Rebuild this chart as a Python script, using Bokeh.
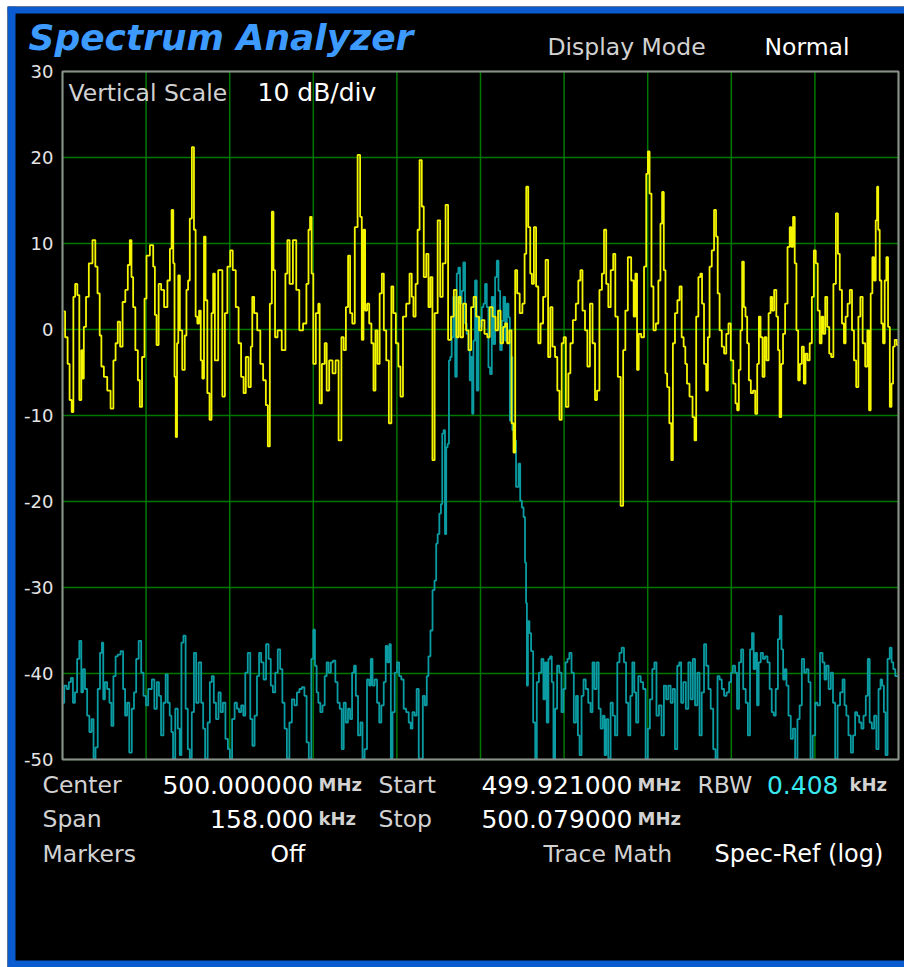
from bokeh.plotting import figure
from bokeh.models import Range1d, Label, ColumnDataSource
from bokeh.layouts import column
from bokeh.embed import file_html
from bokeh.resources import INLINE
from bokeh.core.properties import value

# ---------------- data ----------------
# trace points: bin index (401-point sweep, 499.921 .. 500.079 MHz) and level (dB)
yellow_bin = [0.6, 1.9, 3.0, 3.8, 5.0, 5.4, 6.7, 7.5, 8.6, 9.4, 9.7, 10.7, 11.8, 13.4, 15.3, 16.1, 17.4, 18.2, 19.0, 20.6,
              22.2, 23.8, 24.9, 25.9, 27.0, 28.1, 29.4, 30.7, 31.8, 32.6, 33.4, 34.2, 35.5, 36.6, 37.4, 38.7, 39.8, 40.6,
              43.0, 43.8, 44.6, 45.4, 46.6, 47.8, 49.4, 51.0, 51.8, 52.6, 53.4, 53.8, 54.6, 55.0, 55.8, 56.5, 58.1, 58.9,
              59.7, 60.5, 61.3, 62.5, 63.3, 64.1, 64.9, 65.8, 66.5, 67.3, 68.1, 68.8, 69.8, 70.9, 71.7, 72.5, 73.3, 75.7,
              77.3, 78.1, 79.7, 80.8, 82.1, 83.7, 84.8, 86.1, 87.2, 88.2, 89.8, 90.4, 91.2, 92.2, 94.1, 95.2, 96.8, 97.8,
              98.7, 99.7, 100.6, 101.3, 102.1, 103.7, 106.1, 107.2, 108.0, 109.3, 111.2, 112.5, 114.1, 116.1, 117.3,
              118.1, 118.8, 119.6, 120.4, 122.0, 122.8, 123.3, 124.9, 126.0, 126.8, 128.4, 130.0, 131.3, 132.9, 134.0,
              135.1, 136.1, 137.2, 138.0, 139.3, 140.4, 142.0, 142.8, 143.6, 144.4, 145.2, 146.3, 147.2, 148.4, 149.2,
              150.3, 151.1, 152.4, 153.2, 154.3, 155.5, 156.8, 157.9, 158.7, 160.3, 161.1, 162.3, 163.5, 165.4, 166.7,
              167.5, 168.3, 169.6, 170.2, 171.5, 172.3, 173.4, 174.7, 175.5, 176.6, 177.4, 178.7, 180.3, 181.1, 182.7,
              183.9, 185.1, 186.7, 187.8, 189.1, 189.9, 191.0, 192.3, 193.9, 194.7, 196.3, 197.1, 198.7, 199.9, 201.1,
              202.7, 203.8, 205.0, 206.6, 207.8, 209.0, 210.2, 211.4, 212.2, 213.3, 214.3, 215.4, 216.2, 217.0, 218.1,
              219.4, 220.7, 221.5, 222.3, 223.4, 224.2, 225.0, 226.1, 227.1, 228.2, 229.3, 230.6, 231.7, 233.0, 233.8,
              235.1, 236.2, 237.3, 238.3, 239.4, 240.2, 241.5, 242.6, 243.4, 245.0, 246.2, 247.4, 248.2, 249.4, 250.6,
              251.7, 253.0, 254.2, 255.4, 256.1, 257.7, 258.5, 259.7, 260.6, 261.7, 262.9, 264.1, 264.9, 266.5, 267.6,
              268.9, 269.7, 271.3, 272.9, 273.7, 274.5, 275.3, 276.1, 277.7, 278.8, 279.8, 280.4, 281.4, 282.2, 283.3,
              284.5, 285.7, 286.5, 287.3, 288.1, 288.9, 289.7, 291.0, 291.6, 292.5, 293.6, 294.8, 295.7, 296.8, 297.6,
              298.4, 299.2, 300.8, 302.1, 302.7, 303.7, 304.8, 305.6, 306.4, 307.5, 308.5, 309.1, 310.1, 311.2, 312.3,
              313.1, 313.9, 314.9, 316.0, 317.1, 318.1, 319.2, 320.3, 321.6, 322.4, 323.2, 324.0, 324.8, 325.6, 326.4,
              327.2, 328.0, 328.8, 329.9, 330.9, 332.0, 332.8, 333.6, 334.4, 335.5, 336.3, 337.3, 338.4, 339.2, 339.9,
              341.1, 342.0, 342.7, 343.5, 344.3, 345.2, 346.3, 347.5, 348.4, 349.1, 350.0, 350.7, 351.6, 352.4, 353.2,
              354.3, 355.1, 355.9, 357.0, 358.0, 359.1, 359.9, 360.9, 361.8, 362.8, 363.6, 364.4, 365.5, 366.3, 367.4,
              368.2, 369.5, 370.6, 371.4, 372.4, 373.5, 374.3, 375.1, 376.2, 377.2, 378.3, 379.1, 380.4, 381.2, 382.3,
              383.4, 384.7, 385.5, 386.3, 387.1, 387.9, 388.7, 389.5, 390.0, 390.6, 391.4, 392.2, 393.0, 393.8, 394.6,
              395.4, 396.3, 397.0, 397.8, 398.6, 399.8]
yellow_db = [2.1, -0.9, -4.0, -8.2, -9.6, 3.8, 5.3, 4.0, -8.2, -2.4, -5.7, 0.3, 3.8, 7.7, 10.4, 7.3, 4.2, -0.7, -4.3, -5.5,
             -7.1, -9.2, -3.6, -1.6, 0.9, -2.0, 3.2, 4.6, 7.5, 10.4, 6.1, 2.6, -2.4, -5.9, -9.0, -3.2, 3.6, 8.6,
             9.8, 7.3, 1.7, -1.8, 5.3, 4.6, 2.6, 5.7, 9.4, 13.9, 7.7, -5.5, -12.5, -1.6, 6.3, -0.1, -4.7, -0.7,
             4.6, 5.7, 12.9, 21.2, 11.6, 1.5, 0.7, 2.2, -3.6, -5.7, 10.8, 3.4, -7.4, -10.5, 1.9, 6.5, -3.6, 6.9,
             -7.8, 1.9, 7.3, 9.2, 6.9, 2.6, -1.6, -5.5, -7.4, -3.2, -6.7, -2.0, 3.8, 1.9, -0.1, -4.0, -5.9, -8.8,
             -13.6, 3.0, 13.7, 6.9, -0.9, -0.1, -2.4, 6.5, 10.4, 5.3, 10.4, 4.6, -0.1, 0.7, 5.3,
             11.6, 13.1, 6.5, -4.0, 1.9, 3.0, -8.6, -4.0, -1.6, -7.1, -3.6, -5.1, -3.6, -12.9, -0.9,
             -2.4, 2.6, 8.6, 1.9, 0.7, 11.9, 20.3, 13.1, -1.2, 11.6, 2.2, 3.0, 0.7, -1.6, -7.1,
             -0.1, -4.0, 4.2, 6.5, -0.1, -3.6, -10.9, 5.0, 1.9, -1.6, -4.3, -7.8, 1.5, 3.0, 6.5,
             3.8, 1.5, 5.3, 11.6, 19.7, 14.3, 6.1, 8.8, 2.6, 6.1, -15.2, 1.9, 12.7, 3.8, 7.7,
             14.5, -1.2, 1.5, 4.6, -0.9, 3.8, -0.9, 3.0, -0.1, -2.4, 2.6, 3.8, 1.5, -0.1, 1.1,
             -0.5, -0.9, 2.6, 1.5, -0.1, 2.2, -1.6, 0.3, 0.7, -1.6, -0.1, -10.9, -14.3, 6.9, 4.2,
             1.9, 3.0, 8.8, 16.6, 11.9, 6.5, 5.3, 11.9, 5.0, -1.6, 0.7, 3.8, 8.1, -3.2, 2.6,
             -2.0, -3.2, -7.1, -10.5, -1.6, -0.9, -9.0, -5.1, -1.6, 1.1, 3.0, 5.7, 6.9, 2.2, -0.1,
             -4.3, 3.0, -1.6, -8.2, -7.1, 4.6, 6.5, 11.6, 5.3, 2.6, 6.9, 8.8, 1.5, -5.5, -20.5,
             -2.4, 2.2, 8.4, 5.7, 1.5, 6.5, -4.7, -0.5, -0.9, 7.3, 18.1, 20.7, 15.8, 5.0, -0.1,
             0.7, 5.7, 12.3, 16.0, 6.9, -5.1, -6.7, -10.9, -15.2, -1.6, 1.9, 3.4, 5.0, -0.9, -2.0,
             -4.0, -6.3, -7.8, -10.2, -12.9, 1.5, 6.1, 6.5, 3.0, -4.0, -7.1, -0.9, 7.3, 9.2, 13.9,
             10.8, 4.2, -0.1, -2.0, -2.8, -0.5, 0.7, -3.6, -6.3, -8.6, -9.4, -4.7, -0.1, 7.9, 2.6,
             1.5, -1.6, -5.9, -7.4, -7.1, -9.8, -4.0, 1.5, -0.9, -5.5, -0.9, -3.6, 1.9, 3.8, 2.2,
             4.6, 1.5, -2.4, -10.2, -4.0, -0.5, 3.0, 9.6, 11.9, 9.6, 13.1, 7.7, -0.1, -5.9, -4.0,
             -2.0, -6.3, -2.8, -3.6, -1.6, 3.8, 9.2, 7.7, 2.2, -1.6, 1.5, -0.5, 3.8, 0.3, -2.8,
             -3.2, 5.3, 13.5, 8.8, 4.6, 0.7, -1.6, 1.5, 3.0, 4.6, -0.1, -3.6, -6.7, 1.5, 3.8,
             -1.6, -4.3, -0.1, -9.4, 4.2, 8.4, 5.7, 12.7, 16.6, 11.6, 5.7, 0.7, -1.6, 5.7, 8.4,
             0.3, -9.0, -6.3, -2.0, -1.2, -1.8]

cyan_bin = [0.3, 1.4, 2.6, 3.5, 4.6, 5.4, 6.5, 7.5, 8.6, 9.4, 10.2, 11.3, 12.3, 13.4, 14.4, 15.3, 16.3, 17.4, 18.5, 19.2,
            19.8, 20.8, 21.9, 23.0, 23.8, 24.9, 25.9, 27.0, 28.6, 29.4, 30.5, 31.3, 32.6, 33.7, 34.7, 35.8, 37.1, 38.2,
            39.3, 40.6, 41.4, 42.2, 43.3, 44.6, 45.7, 46.6, 47.7, 48.9, 49.8, 50.9, 51.7, 52.5, 53.3, 54.6, 55.7, 56.5,
            57.3, 58.4, 59.4, 60.5, 61.3, 62.4, 63.4, 64.5, 65.8, 66.9, 67.7, 68.8, 70.1, 70.9, 72.0, 72.8, 74.1, 75.2,
            76.2, 77.3, 78.6, 79.7, 80.5, 81.8, 82.9, 84.0, 84.9, 86.1, 86.9, 88.0, 89.3, 90.4, 91.3, 92.5, 93.6, 94.5,
            95.6, 96.8, 98.0, 99.2, 100.1, 101.2, 102.4, 103.6, 104.7, 105.7, 106.8, 107.9, 109.2, 110.3, 111.6, 112.7,
            114.0, 115.1, 116.4, 117.2, 118.5, 119.6, 120.4, 121.2, 122.0, 122.8, 123.9, 124.9, 126.0, 126.8, 127.9,
            128.9, 130.0, 131.1, 132.1, 133.2, 134.0, 135.1, 136.0, 137.2, 138.0, 139.1, 139.9, 140.8, 142.0, 143.1,
            144.0, 145.1, 146.3, 147.1, 147.9, 148.8, 149.9, 151.1, 152.0, 153.1, 154.3, 155.0, 156.0, 156.8, 157.4,
            158.4, 159.5, 160.6, 161.5, 162.7, 163.8, 165.1, 166.2, 167.0, 167.9, 169.0, 169.9, 171.0, 172.0, 172.8,
            173.9, 174.7, 175.5, 176.6, 177.5, 178.5, 179.1, 179.9, 180.7, 181.4, 182.0, 182.7, 183.3, 183.9, 184.6,
            185.2, 185.9, 186.5, 187.5, 188.3, 189.0, 189.8, 190.6, 191.4, 192.2, 193.0, 193.8, 194.6, 195.1, 195.8,
            196.2, 197.0, 197.8, 198.6, 199.4, 200.2, 201.0, 201.8, 202.6, 203.4, 204.2, 205.0, 205.8, 206.6, 207.4,
            208.2, 209.0, 209.8, 210.6, 211.4, 212.2, 213.0, 213.8, 214.3, 214.9, 215.6, 216.2, 217.8, 218.6, 219.4,
            220.2, 221.0, 221.6, 222.0, 222.4, 223.0, 223.8, 224.6, 225.8, 226.6, 227.3, 228.6, 229.7, 230.5, 231.3,
            232.1, 232.9, 233.7, 234.5, 235.3, 236.1, 237.2, 238.2, 239.3, 240.1, 241.2, 242.0, 243.0, 244.1, 245.2,
            246.2, 247.0, 247.8, 248.9, 249.7, 251.0, 252.1, 253.2, 254.0, 255.0, 256.1, 257.0, 258.0, 259.0, 259.8,
            260.6, 261.7, 262.8, 263.8, 264.9, 266.0, 267.0, 268.1, 269.2, 270.1, 271.3, 272.1, 273.2, 274.0, 274.9,
            276.1, 277.2, 278.4, 279.6, 280.5, 281.6, 282.8, 283.6, 284.8, 286.0, 287.2, 288.3, 289.3, 290.4, 291.5,
            292.5, 293.6, 294.7, 295.5, 296.5, 297.6, 298.9, 300.0, 301.1, 302.1, 303.2, 304.3, 305.3, 306.4, 307.5,
            308.5, 309.6, 310.7, 312.0, 312.9, 313.9, 314.9, 316.0, 317.1, 318.4, 319.5, 320.3, 321.2, 322.4, 323.1,
            324.3, 325.1, 326.3, 327.5, 328.4, 329.5, 330.3, 331.1, 331.9, 332.7, 333.5, 334.7, 335.6, 336.7, 337.9,
            338.8, 339.9, 340.7, 341.8, 342.8, 343.6, 344.4, 345.2, 346.0, 346.8, 347.9, 349.0, 350.0, 351.1, 352.2,
            353.2, 354.3, 355.4, 356.4, 357.5, 358.3, 359.6, 360.7, 361.8, 363.1, 364.2, 365.0, 366.0, 367.1, 368.2,
            369.1, 370.3, 371.4, 372.7, 373.8, 374.6, 375.5, 376.6, 377.8, 378.7, 379.8, 380.6, 381.8, 382.7, 383.8,
            384.9, 385.7, 386.7, 387.8, 388.9, 389.9, 391.0, 391.8, 392.6, 393.4, 394.2, 395.3, 396.3, 397.1, 397.9,
            399.0, 399.8]
cyan_db = [-43.4, -41.4, -41.8, -41.0, -40.5, -43.4, -42.2, -38.3, -36.2, -42.2, -39.5, -41.8, -44.9, -46.8, -45.3, -49.9,
           -48.6, -41.8, -37.6, -36.4, -43.0, -41.0, -41.8, -43.4, -46.1, -40.3, -38.0, -37.8, -37.4, -41.8, -44.9, -43.4,
           -49.2, -44.1, -42.2, -38.3, -36.2, -39.9, -42.6, -43.7, -41.8, -41.8, -40.7, -44.1, -41.0, -42.6, -47.2, -43.4,
           -40.1, -43.4, -44.9, -46.8, -49.9, -44.1, -46.4, -49.5, -36.4, -35.6, -44.1, -48.8, -49.9, -44.5, -37.6, -43.4,
           -38.7, -43.4, -46.4, -49.9, -45.7, -41.0, -40.3, -43.4, -45.3, -42.2, -44.5, -43.4, -47.6, -48.8, -49.9, -45.3,
           -43.4, -44.1, -44.5, -43.7, -44.9, -39.9, -37.6, -45.3, -48.4, -44.9, -40.3, -37.6, -38.7, -40.7, -36.6, -38.3,
           -41.4, -42.2, -39.9, -37.2, -39.5, -43.4, -46.4, -49.9, -45.7, -43.0, -43.7, -42.2, -41.8, -41.6, -42.6, -48.0,
           -49.9, -38.3, -34.9, -39.1, -42.2, -43.4, -44.5, -43.7, -40.3, -38.7, -39.9, -38.7, -38.5, -41.0, -43.4, -44.1,
           -48.8, -43.4, -45.7, -44.1, -45.3, -39.9, -39.1, -42.6, -47.2, -45.7, -49.9, -48.8, -40.7, -41.4, -38.3, -41.4,
           -40.7, -43.4, -45.7, -43.7, -41.0, -36.8, -38.7, -36.6, -49.9, -44.5, -39.9, -38.7, -40.3, -40.7, -44.1, -44.5,
           -45.7, -46.4, -44.5, -44.9, -41.8, -49.9, -49.9, -42.6, -43.7, -40.3, -38.0, -35.0, -30.3, -29.2, -24.9, -23.8,
           -21.4, -20.3, -12.1, -11.7, -23.8, -13.7, -13.3, -3.6, -3.2, -0.9, 3.8, -5.5, 6.5, 7.2, 3.0, 4.5, 7.8, 0.7,
           -0.5, -2.4, -5.9, -3.2, -9.8, -1.3, 5.7, -7.1, 1.4, 0.3, 2.6, 3.0, 5.3, 2.6, -4.4, -5.2, 3.8, -1.7, 6.1,
           8.0, 4.5, -2.4, 1.0, 3.8, -1.3, 3.0, 1.4, -10.6, -3.2, -11.7, -12.9, -18.3, -15.6, -19.9, -20.7, -21.8, -27.1,
           -31.8, -41.4, -33.9, -35.3, -37.4, -45.7, -49.9, -41.0, -39.9, -38.3, -43.0, -38.7, -45.7, -38.3, -38.0,
           -41.0, -49.9, -44.1, -39.1, -39.9, -44.5, -41.8, -38.7, -38.3, -37.6, -39.9, -45.7, -42.6, -47.2, -49.5,
           -42.6, -40.7, -41.8, -43.4, -44.5, -38.7, -41.8, -38.7, -44.1, -46.4, -44.9, -49.5, -45.3, -49.9, -43.4,
           -44.9, -47.2, -38.7, -37.6, -37.0, -38.7, -43.4, -47.2, -42.6, -38.7, -42.2, -45.7, -40.3, -41.0, -41.8,
           -49.9, -46.4, -43.0, -39.5, -38.7, -44.9, -43.7, -47.2, -41.4, -43.0, -41.4, -43.4, -41.8, -48.8, -39.1,
           -38.7, -43.4, -41.0, -44.1, -38.7, -43.0, -38.3, -43.7, -39.9, -47.2, -42.2, -36.6, -39.1, -41.8, -44.1,
           -48.8, -49.9, -40.3, -40.7, -41.8, -42.6, -42.2, -41.0, -39.9, -39.1, -39.9, -44.1, -38.7, -37.2, -41.8,
           -43.4, -47.2, -37.2, -35.3, -39.5, -37.6, -43.7, -38.7, -37.6, -38.3, -38.0, -38.7, -41.8, -44.5, -44.9,
           -41.8, -36.0, -33.3, -37.2, -40.7, -39.5, -41.4, -44.9, -47.6, -46.4, -49.9, -45.3, -43.7, -38.3, -39.9,
           -39.5, -41.0, -49.9, -47.2, -43.4, -43.7, -37.6, -38.7, -40.7, -39.1, -41.8, -39.9, -43.4, -49.9, -43.7,
           -42.2, -40.7, -43.7, -44.9, -47.2, -49.2, -47.2, -44.5, -44.9, -45.7, -46.4, -44.9, -42.6, -38.3, -45.7,
           -46.4, -44.9, -48.8, -41.8, -40.7, -41.4, -44.5, -49.5, -38.3, -37.0, -38.7, -39.5, -40.3, -40.3]

y_ticks = [-50, -40, -30, -20, -10, 0, 10, 20, 30]
x_divisions = [0, 40, 80, 120, 160, 200, 240, 280, 320, 360, 400]
y_tick_labels = [str(t) for t in y_ticks]

# ---------------- layout (pixels, canvas coordinates) ----------------
W, H = 897, 961                 # canvas size
BOX_L, BOX_R = 55, 891          # plot box edges
BOX_T, BOX_B = 65, 753
EDGE_L, EDGE_T, EDGE_B = 8, 7, 7    # blue frame thickness

x_lo, x_hi = min(x_divisions), max(x_divisions)
y_lo, y_hi = min(y_ticks), max(y_ticks)
ppx = (BOX_R - BOX_L) / (x_hi - x_lo)
ppy = (BOX_B - BOX_T) / (y_hi - y_lo)
xs, xe = x_lo - BOX_L / ppx, x_hi + (W - BOX_R) / ppx
ys, ye = y_lo - (H - BOX_B) / ppy, y_hi + BOX_T / ppy

FONT = "DejaVu Sans"
LABEL_C = "#d2d2d2"
VALUE_C = "#ffffff"
BLUE = "#0b5bd0"

p = figure(width=W, height=H, output_backend="svg", toolbar_location=None,
           x_range=Range1d(xs, xe), y_range=Range1d(ys, ye),
           min_border=0, min_border_left=0, min_border_right=0, min_border_top=0, min_border_bottom=0,
           x_axis_location=None, y_axis_location=None)
p.grid.visible = False
p.outline_line_color = None
p.background_fill_color = "black"
p.border_fill_color = "black"

# blue frame (left, top, bottom edges of the instrument panel)
fx = EDGE_L / ppx
ft = EDGE_T / ppy
fb = EDGE_B / ppy
p.quad(left=[xs, xs, xs], right=[xs + fx, xe, xe], bottom=[ys, ye - ft, ys], top=[ye, ye, ys + fb],
       fill_color=BLUE, line_color=None)

# grid
GRID_C = "#007800"
vg = ColumnDataSource(dict(x=x_divisions, y0=[y_lo] * len(x_divisions), y1=[y_hi] * len(x_divisions)))
hg = ColumnDataSource(dict(y=y_ticks, x0=[x_lo] * len(y_ticks), x1=[x_hi] * len(y_ticks)))
p.segment(x0="x", y0="y0", x1="x", y1="y1", source=vg, line_color=GRID_C, line_width=1.5)
p.segment(x0="x0", y0="y", x1="x1", y1="y", source=hg, line_color=GRID_C, line_width=1.5)

# traces
cyan_src = ColumnDataSource(dict(x=cyan_bin, y=cyan_db))
yel_src = ColumnDataSource(dict(x=yellow_bin, y=yellow_db))
p.step("x", "y", source=cyan_src, mode="center", line_color="#0a9ca2", line_width=1.8)
p.step("x", "y", source=yel_src, mode="center", line_color="#f5f500", line_width=1.8)

# plot box
p.quad(left=[x_lo], right=[x_hi], bottom=[y_lo], top=[y_hi], fill_color=None,
       line_color="#8e8e8e", line_width=2)

# y tick labels
tk = ColumnDataSource(dict(x=[x_lo] * len(y_ticks), y=y_ticks, t=y_tick_labels))
p.text(x="x", y="y", text="t", source=tk, x_offset=-9, text_align="right", text_baseline="middle",
       text_font=value(FONT), text_font_size="18px", text_color="#e4e4e4")


def lab(x, y, text, size="23.5px", color=LABEL_C, align="left", style="normal"):
    p.add_layout(Label(x=x, y=y, x_units="canvas", y_units="canvas", text=text,
                       text_font=FONT, text_font_size=size, text_color=color,
                       text_align=align, text_baseline="middle", text_font_style=style))


lab(21, 31, "Spectrum Analyzer", size="36px", color="#3d9bff", style="bold italic")
lab(540, 40, "Display Mode")
lab(757, 40, "Normal", color=VALUE_C)
lab(61, 86, "Vertical Scale")
lab(250, 86, "10 dB/div", size="25px", color=VALUE_C)

r1, r2, r3 = 778, 812, 847
lab(35, r1, "Center")
lab(306, r1, "500.000000", size="25px", color=VALUE_C, align="right")
lab(311, r1, "MHz", size="18px", style="bold")
lab(371, r1, "Start")
lab(625, r1, "499.921000", size="25px", color=VALUE_C, align="right")
lab(630, r1, "MHz", size="18px", style="bold")
lab(690, r1, "RBW")
lab(831, r1, "0.408", size="25px", color="#38e8f0", align="right")
lab(842, r1, "kHz", size="18px", style="bold")

lab(35, r2, "Span")
lab(306, r2, "158.000", size="25px", color=VALUE_C, align="right")
lab(311, r2, "kHz", size="18px", style="bold")
lab(371, r2, "Stop")
lab(625, r2, "500.079000", size="25px", color=VALUE_C, align="right")
lab(630, r2, "MHz", size="18px", style="bold")

lab(35, r3, "Markers")
lab(263, r3, "Off", color=VALUE_C)
lab(536, r3, "Trace Math")
lab(707, r3, "Spec-Ref (log)", size="24px", color=VALUE_C)

outer = column(p, styles={"background-color": "white", "padding": "6px 0px 0px 7px"})

open("out.html", "w").write(file_html(outer, INLINE))
